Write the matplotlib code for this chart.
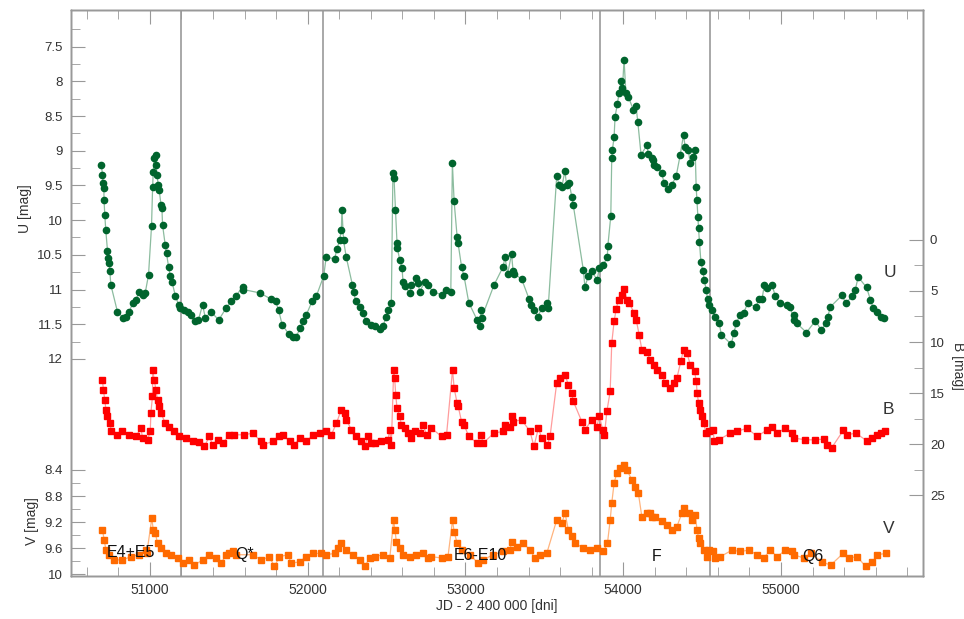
import matplotlib
matplotlib.use("Agg")
import matplotlib.pyplot as plt
from matplotlib.ticker import FixedLocator, MultipleLocator

plt.rcParams['font.family'] = ['Liberation Sans', 'DejaVu Sans']

# --- data (JD - 2400000, magnitude) ---
u_jd = [50693, 50699, 50703, 50708, 50709, 50714, 50720, 50731, 50735, 50742,
        50746, 50752, 50794, 50832, 50851, 50869, 50890, 50911, 50932, 50953,
        50970, 50991, 51010, 51017, 51021, 51027, 51038, 51040, 51044, 51053,
        51059, 51070, 51076, 51080, 51097, 51105, 51118, 51129, 51140, 51161,
        51182, 51190, 51218, 51239, 51260, 51288, 51307, 51334, 51351, 51387,
        51436, 51482, 51514, 51546, 51588, 51592, 51698, 51768, 51796, 51815,
        51838, 51880, 51905, 51927, 51952, 51973, 51990, 52028, 52054, 52102,
        52117, 52170, 52185, 52202, 52213, 52217, 52227, 52244, 52283, 52291,
        52304, 52329, 52350, 52371, 52403, 52424, 52456, 52477, 52498, 52509,
        52530, 52540, 52547, 52556, 52566, 52568, 52583, 52598, 52604, 52615,
        52646, 52657, 52689, 52699, 52710, 52742, 52763, 52791, 52854, 52879,
        52907, 52917, 52928, 52947, 52953, 52975, 52991, 53021, 53074, 53091,
        53097, 53102, 53180, 53239, 53250, 53267, 53292, 53302, 53307, 53356,
        53402, 53415, 53434, 53461, 53482, 53514, 53524, 53578, 53594, 53611,
        53630, 53641, 53658, 53673, 53683, 53747, 53757, 53778, 53800, 53835,
        53848, 53873, 53899, 53902, 53921, 53927, 53931, 53942, 53948, 53963,
        53973, 53986, 53995, 54005, 54017, 54032, 54064, 54081, 54092, 54113,
        54149, 54159, 54181, 54191, 54196, 54217, 54244, 54259, 54286, 54308,
        54335, 54361, 54382, 54392, 54413, 54424, 54445, 54456, 54462, 54467,
        54473, 54477, 54483, 54492, 54505, 54513, 54526, 54534, 54541, 54562,
        54583, 54609, 54621, 54685, 54700, 54717, 54738, 54763, 54788, 54843,
        54858, 54880, 54894, 54911, 54943, 54964, 54996, 55038, 55059, 55080,
        55085, 55102, 55161, 55218, 55256, 55282, 55296, 55313, 55388, 55409,
        55451, 55470, 55489, 55542, 55567, 55585, 55610, 55631, 55652]
u_mag = [9.21, 9.35, 9.47, 9.54, 9.71, 9.93, 10.14, 10.45, 10.55, 10.62,
         10.74, 10.93, 11.32, 11.41, 11.39, 11.32, 11.20, 11.15, 11.03, 11.08,
         11.05, 10.79, 10.09, 9.52, 9.30, 9.11, 9.06, 9.20, 9.35, 9.49,
         9.57, 9.78, 9.83, 10.07, 10.36, 10.48, 10.67, 10.81, 10.89, 11.09,
         11.22, 11.27, 11.29, 11.33, 11.37, 11.46, 11.44, 11.22, 11.41, 11.32,
         11.44, 11.27, 11.17, 11.09, 10.96, 11.00, 11.05, 11.14, 11.17, 11.29,
         11.51, 11.64, 11.69, 11.68, 11.56, 11.46, 11.37, 11.17, 11.10, 10.80,
         10.53, 10.56, 10.42, 10.29, 10.14, 9.85, 10.29, 10.53, 10.93, 11.03,
         11.17, 11.25, 11.34, 11.46, 11.51, 11.53, 11.57, 11.53, 11.39, 11.29,
         11.20, 9.32, 9.39, 9.85, 10.33, 10.40, 10.57, 10.69, 10.89, 10.95,
         11.05, 10.93, 10.84, 10.90, 11.03, 10.89, 10.93, 11.03, 11.08, 11.01,
         11.03, 9.18, 9.73, 10.24, 10.33, 10.67, 10.81, 11.19, 11.44, 11.53,
         11.29, 11.41, 10.94, 10.67, 10.53, 10.77, 10.49, 10.74, 10.77, 10.85,
         11.13, 11.22, 11.29, 11.39, 11.27, 11.20, 11.27, 9.37, 9.49, 9.52,
         9.29, 9.50, 9.47, 9.66, 9.78, 10.72, 10.96, 10.81, 10.74, 10.86,
         10.69, 10.65, 10.53, 10.38, 9.94, 9.11, 8.99, 8.80, 8.51, 8.32,
         8.17, 8.00, 8.10, 7.69, 8.17, 8.22, 8.41, 8.36, 8.58, 9.06,
         8.92, 9.04, 9.11, 9.13, 9.20, 9.23, 9.32, 9.47, 9.55, 9.49,
         9.37, 9.06, 8.77, 8.94, 8.99, 9.18, 9.09, 8.99, 9.52, 9.71,
         9.95, 10.12, 10.32, 10.60, 10.74, 10.86, 11.01, 11.13, 11.22, 11.29,
         11.39, 11.49, 11.65, 11.79, 11.63, 11.49, 11.37, 11.34, 11.20, 11.25,
         11.14, 11.13, 10.94, 10.98, 10.93, 11.10, 11.20, 11.22, 11.25, 11.44,
         11.37, 11.49, 11.62, 11.45, 11.59, 11.49, 11.39, 11.25, 11.08, 11.20,
         11.10, 11.01, 10.82, 10.97, 11.15, 11.27, 11.32, 11.39, 11.41]

b_jd = [50699, 50705, 50714, 50721, 50731, 50746, 50756, 50794, 50826, 50869,
        50911, 50943, 50953, 50985, 51002, 51006, 51016, 51018, 51027, 51038,
        51048, 51059, 51070, 51097, 51123, 51154, 51186, 51229, 51271, 51313,
        51345, 51377, 51397, 51429, 51461, 51504, 51535, 51599, 51651, 51705,
        51715, 51778, 51821, 51842, 51885, 51916, 51948, 51991, 52033, 52075,
        52118, 52150, 52182, 52213, 52234, 52245, 52277, 52308, 52340, 52361,
        52382, 52403, 52424, 52467, 52509, 52520, 52530, 52545, 52551, 52558,
        52566, 52583, 52594, 52615, 52636, 52657, 52678, 52710, 52731, 52753,
        52784, 52848, 52880, 52918, 52928, 52947, 52954, 52975, 52991, 53021,
        53074, 53098, 53112, 53180, 53239, 53250, 53282, 53292, 53303, 53356,
        53409, 53434, 53462, 53483, 53519, 53536, 53578, 53599, 53631, 53652,
        53673, 53684, 53737, 53758, 53800, 53832, 53849, 53870, 53881, 53896,
        53917, 53927, 53942, 53955, 53970, 53991, 54005, 54023, 54039, 54069,
        54082, 54101, 54118, 54150, 54171, 54192, 54213, 54245, 54266, 54298,
        54319, 54340, 54365, 54382, 54404, 54425, 54452, 54463, 54468, 54478,
        54488, 54499, 54509, 54526, 54541, 54569, 54577, 54605, 54679, 54722,
        54785, 54848, 54913, 54943, 54975, 55028, 55070, 55080, 55155, 55218,
        55271, 55293, 55320, 55394, 55420, 55472, 55542, 55578, 55606, 55631,
        55658]
b_mag = [13.70, 14.68, 15.66, 16.63, 17.29, 17.94, 18.75, 19.08, 18.75, 19.08,
         19.24, 18.43, 19.40, 19.57, 18.75, 16.96, 15.33, 12.72, 13.70, 14.68,
         15.66, 16.31, 16.96, 17.94, 18.27, 18.75, 19.24, 19.40, 19.73, 19.83,
         20.22, 19.24, 20.06, 19.57, 19.90, 19.08, 19.08, 19.08, 18.92, 19.73,
         20.06, 19.73, 19.24, 19.08, 19.73, 20.06, 19.40, 19.73, 19.08, 18.92,
         18.75, 19.08, 17.94, 16.63, 16.96, 17.61, 18.59, 19.24, 19.73, 20.22,
         19.24, 19.90, 19.90, 19.73, 19.57, 18.59, 20.06, 12.72, 13.53, 15.17,
         16.47, 17.29, 18.10, 18.43, 18.92, 19.40, 18.75, 18.92, 18.10, 19.08,
         18.43, 19.24, 19.08, 12.72, 14.51, 15.98, 16.31, 17.78, 18.10, 19.24,
         19.90, 19.08, 19.90, 18.92, 18.75, 18.10, 18.27, 17.29, 17.78, 17.61,
         18.75, 20.22, 18.43, 19.40, 20.06, 19.24, 14.02, 13.53, 13.21, 14.19,
         15.00, 15.82, 17.78, 18.59, 17.61, 18.27, 17.29, 18.59, 19.08, 16.80,
         14.84, 10.11, 7.99, 6.78, 5.87, 5.38, 4.82, 5.87, 6.19, 7.17,
         7.83, 9.30, 10.76, 10.93, 11.80, 12.23, 12.72, 13.21, 14.02, 14.51,
         14.02, 13.53, 11.90, 10.76, 11.09, 12.23, 12.88, 13.86, 15.00, 15.98,
         16.63, 17.29, 17.94, 18.92, 18.75, 18.59, 19.73, 19.57, 18.92, 18.75,
         18.43, 19.24, 18.59, 18.27, 18.92, 18.43, 18.92, 19.40, 19.57, 19.57,
         19.50, 20.06, 20.38, 18.66, 19.08, 18.92, 19.64, 19.40, 19.08, 18.92,
         18.75]

v_jd = [50699, 50710, 50721, 50742, 50773, 50826, 50879, 50932, 50975, 50980,
        51012, 51021, 51034, 51048, 51070, 51102, 51133, 51175, 51207, 51249,
        51281, 51334, 51377, 51419, 51451, 51483, 51504, 51525, 51546, 51651,
        51705, 51757, 51789, 51821, 51874, 51895, 51948, 51991, 52033, 52086,
        52118, 52170, 52191, 52213, 52245, 52286, 52329, 52361, 52393, 52424,
        52477, 52520, 52545, 52553, 52562, 52583, 52604, 52647, 52689, 52731,
        52763, 52784, 52848, 52889, 52918, 52928, 52947, 52975, 53028, 53080,
        53112, 53175, 53239, 53282, 53292, 53324, 53366, 53409, 53440, 53472,
        53515, 53578, 53610, 53631, 53652, 53673, 53694, 53747, 53790, 53836,
        53874, 53900, 53917, 53927, 53942, 53959, 53980, 54005, 54023, 54054,
        54075, 54096, 54118, 54150, 54171, 54181, 54202, 54245, 54277, 54308,
        54340, 54372, 54388, 54414, 54435, 54456, 54468, 54478, 54488, 54509,
        54530, 54541, 54569, 54583, 54615, 54689, 54742, 54795, 54848, 54890,
        54933, 54975, 55028, 55070, 55080, 55144, 55187, 55261, 55314, 55394,
        55430, 55483, 55536, 55578, 55610, 55663]
v_mag = [9.32, 9.47, 9.63, 9.70, 9.78, 9.78, 9.73, 9.70, 9.63, 9.68,
         9.14, 9.32, 9.37, 9.52, 9.60, 9.68, 9.70, 9.75, 9.83, 9.78,
         9.86, 9.78, 9.70, 9.75, 9.83, 9.70, 9.68, 9.65, 9.70, 9.70,
         9.78, 9.73, 9.88, 9.73, 9.70, 9.83, 9.81, 9.73, 9.68, 9.68,
         9.70, 9.68, 9.60, 9.52, 9.63, 9.70, 9.78, 9.88, 9.75, 9.73,
         9.70, 9.75, 9.17, 9.32, 9.50, 9.60, 9.70, 9.73, 9.70, 9.68,
         9.75, 9.73, 9.75, 9.73, 9.17, 9.35, 9.52, 9.63, 9.70, 9.83,
         9.78, 9.70, 9.65, 9.63, 9.50, 9.58, 9.52, 9.63, 9.75, 9.70,
         9.68, 9.17, 9.22, 9.06, 9.32, 9.42, 9.52, 9.60, 9.63, 9.60,
         9.65, 9.52, 9.17, 8.91, 8.60, 8.45, 8.37, 8.32, 8.40, 8.55,
         8.66, 8.76, 9.12, 9.06, 9.06, 9.12, 9.12, 9.19, 9.24, 9.32,
         9.27, 9.06, 8.99, 9.06, 9.17, 9.09, 9.32, 9.45, 9.52, 9.63,
         9.73, 9.63, 9.65, 9.75, 9.73, 9.63, 9.65, 9.63, 9.70, 9.75,
         9.63, 9.73, 9.63, 9.65, 9.70, 9.75, 9.68, 9.81, 9.86, 9.68,
         9.75, 9.73, 9.88, 9.81, 9.70, 9.68]

# boundaries between activity stages
stage_lines = [51200, 52100, 53850, 54550]
stage_names = ['E4+E5', 'Q*', 'E6-E10', 'F', 'Q6']
stage_jd = [50878, 51599, 53094, 54213, 55201]
stage_v = [9.67, 9.70, 9.71, 9.72, 9.72]

u_ticks = [7.5, 8, 8.5, 9, 9.5, 10, 10.5, 11, 11.5, 12]
u_labels = ['7.5', '8', '8.5', '9', '9.5', '10', '10.5', '11', '11.5', '12']
u_minor = [7.25, 7.75, 8.25, 8.75, 9.25, 9.75, 10.25, 10.75, 11.25, 11.75]
v_ticks = [8.4, 8.8, 9.2, 9.6, 10.0]
v_labels = ['8.4', '8.8', '9.2', '9.6', '10']
v_minor = [8.6, 9.0, 9.4, 9.8]
b_ticks = [0, 5, 10, 15, 20, 25]
b_minor = [2.5, 7.5, 12.5, 17.5, 22.5]
x_ticks = [51000, 52000, 53000, 54000, 55000]

narrow = ['Liberation Sans Narrow', 'Liberation Sans', 'DejaVu Sans']
frame_col = '#999999'
text_col = '#333333'

fig = plt.figure(figsize=(9.64, 6.19), dpi=100)
ax = fig.add_axes([0.0737, 0.0695, 0.8838, 0.9144])
ax_v = ax.twinx()
ax_b = ax.twinx()

for a in (ax, ax_v, ax_b):
    for s in a.spines.values():
        s.set_color(frame_col)
        s.set_linewidth(1.0)
    a.tick_params(which='both', direction='in', color=frame_col,
                  labelcolor=text_col, labelsize=9.5)
    a.tick_params(which='major', length=10)
    a.tick_params(which='minor', length=6.5)

for xl in stage_lines:
    ax.axvline(xl, color='#9a9a9a', lw=1.2, zorder=0)

ax.plot(u_jd, u_mag, '-o', color='#8cbc9f', lw=0.9, ms=4.5,
        mfc='#00642d', mec='#00642d', zorder=3)
ax_b.plot(b_jd, b_mag, '-s', color='#ff9c9c', lw=0.9, ms=4.2,
          mfc='#ff0000', mec='#ff0000', zorder=3)
ax_v.plot(v_jd, v_mag, '-s', color='#ffb47e', lw=0.9, ms=4.2,
          mfc='#ff6a00', mec='#ff6a00', zorder=3)

ax.set_xlim(50500, 55900)
ax.set_xticks(x_ticks)
ax.xaxis.set_minor_locator(MultipleLocator(200))
ax.tick_params(axis='x', which='both', top=True, pad=5, labelsize=10)

ax.set_ylim(15.13, 6.97)
ax.yaxis.set_major_locator(FixedLocator(u_ticks))
ax.set_yticklabels(u_labels)
ax.yaxis.set_minor_locator(FixedLocator(u_minor))
ax.tick_params(axis='y', which='both', left=True, right=False, pad=6)

ax_v.yaxis.tick_left()
ax_v.set_ylim(10.026, 1.345)
ax_v.yaxis.set_major_locator(FixedLocator(v_ticks))
ax_v.set_yticklabels(v_labels)
ax_v.yaxis.set_minor_locator(FixedLocator(v_minor))
ax_v.tick_params(axis='y', which='both', left=True, right=False, pad=6)

ax_b.set_ylim(32.9, -22.5)
ax_b.yaxis.set_major_locator(FixedLocator(b_ticks))
ax_b.yaxis.set_minor_locator(FixedLocator(b_minor))
ax_b.tick_params(axis='y', which='both', right=True, left=False, pad=5)

# band names on the right
ax.text(55688, 10.75, 'U', family=narrow, fontsize=12.5, color=text_col,
        ha='center', va='center')
ax_b.text(55682, 16.6, 'B', family=narrow, fontsize=12.5, color=text_col,
          ha='center', va='center')
ax_v.text(55682, 9.305, 'V', family=narrow, fontsize=12.5, color=text_col,
          ha='center', va='center')

for name, xj, yv in zip(stage_names, stage_jd, stage_v):
    ax_v.text(xj, yv, name, family=narrow, fontsize=11.5, color='#111111',
              ha='center', va='center', zorder=5)

fig.text(25 / 964, 1 - 209 / 619, 'U [mag]', rotation=90, fontsize=10,
         color=text_col, ha='center', va='center')
fig.text(32 / 964, 1 - 521 / 619, 'V [mag]', rotation=90, fontsize=10,
         color=text_col, ha='center', va='center')
fig.text(958 / 964, 1 - 366 / 619, 'B [mag]', rotation=270, fontsize=10,
         color=text_col, ha='center', va='center')
fig.text(497 / 964, 1 - 606 / 619, 'JD - 2 400 000 [dni]', fontsize=10,
         color=text_col, ha='center', va='center')

fig.savefig('out.png', dpi=100)
